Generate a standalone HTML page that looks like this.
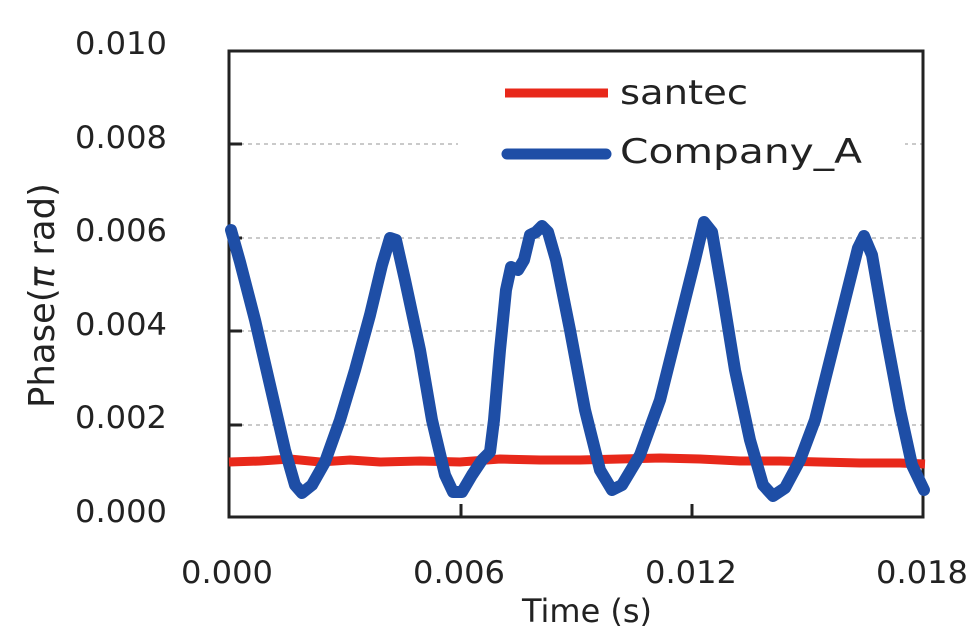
<!DOCTYPE html>
<html><head><meta charset="utf-8"><style>
body{margin:0;background:#fff}
svg{display:block}
text{font-family:"DejaVu Sans","Liberation Sans",sans-serif;fill:#222}
</style></head><body>
<svg width="969" height="633" viewBox="0 0 969 633">
<g stroke="#aaa" stroke-width="1.3" stroke-dasharray="4,4">
<line x1="232" y1="144" x2="923" y2="144"/>
<line x1="232" y1="238" x2="923" y2="238"/>
<line x1="232" y1="331" x2="923" y2="331"/>
<line x1="232" y1="425" x2="923" y2="425"/>
</g>
<rect x="458" y="62" width="447" height="120" fill="#fff"/>
<rect x="229" y="51" width="694" height="466" fill="none" stroke="#222" stroke-width="3"/>
<g stroke="#222" stroke-width="3">
<line x1="229" y1="144" x2="242" y2="144"/>
<line x1="229" y1="238" x2="242" y2="238"/>
<line x1="229" y1="331" x2="242" y2="331"/>
<line x1="229" y1="425" x2="242" y2="425"/>
<line x1="461" y1="517" x2="461" y2="504"/>
<line x1="692" y1="517" x2="692" y2="504"/>
</g>
<polyline fill="none" stroke="#e8281a" stroke-width="9" points="229,462 260,461 290,459 320,462 350,460 380,462 420,461 460,462 500,459 540,460 580,460 620,459 660,458 700,459 740,461 780,461 820,462 860,463 900,463 925,464"/>
<polyline fill="none" stroke="#1e4ea6" stroke-width="12" stroke-linejoin="round" stroke-linecap="round" points="231,230 240,262 255,320 270,385 285,450 295,485 302,493 312,485 325,462 340,420 355,370 370,315 382,265 390,238 396,240 405,280 420,350 432,420 445,475 453,492 462,492 472,475 482,460 490,452 494,420 500,350 506,290 511,267 518,270 524,260 530,235 536,232 542,226 548,232 556,260 570,330 585,410 600,470 612,490 622,485 640,455 660,400 680,320 695,260 704,222 712,232 722,290 735,370 750,440 763,485 773,496 785,488 800,460 815,420 830,360 845,300 858,248 864,236 872,255 885,330 900,410 912,465 924,490"/>
<line x1="505" y1="93" x2="608" y2="93" stroke="#e8281a" stroke-width="9"/>
<line x1="507" y1="154" x2="606" y2="154" stroke="#1e4ea6" stroke-width="11" stroke-linecap="round"/>
<text x="620" y="104" font-size="34" textLength="128" lengthAdjust="spacingAndGlyphs">santec</text>
<text x="620" y="163" font-size="34" textLength="242" lengthAdjust="spacingAndGlyphs">Company_A</text>
<g font-size="31">
<text x="75" y="54" textLength="92" lengthAdjust="spacingAndGlyphs">0.010</text>
<text x="75" y="148" textLength="92" lengthAdjust="spacingAndGlyphs">0.008</text>
<text x="75" y="241" textLength="92" lengthAdjust="spacingAndGlyphs">0.006</text>
<text x="75" y="335" textLength="92" lengthAdjust="spacingAndGlyphs">0.004</text>
<text x="75" y="428" textLength="92" lengthAdjust="spacingAndGlyphs">0.002</text>
<text x="75" y="522" textLength="92" lengthAdjust="spacingAndGlyphs">0.000</text>
<text x="181" y="583" textLength="92" lengthAdjust="spacingAndGlyphs">0.000</text>
<text x="413" y="583" textLength="92" lengthAdjust="spacingAndGlyphs">0.006</text>
<text x="645" y="583" textLength="92" lengthAdjust="spacingAndGlyphs">0.012</text>
<text x="876" y="583" textLength="92" lengthAdjust="spacingAndGlyphs">0.018</text>
</g>
<text x="522" y="622" font-size="32" textLength="130" lengthAdjust="spacingAndGlyphs">Time (s)</text>
<text transform="translate(54,408) rotate(-90)" font-size="36" textLength="225" lengthAdjust="spacingAndGlyphs">Phase(<tspan font-style="italic">π</tspan> rad)</text>
</svg>
</body></html>
